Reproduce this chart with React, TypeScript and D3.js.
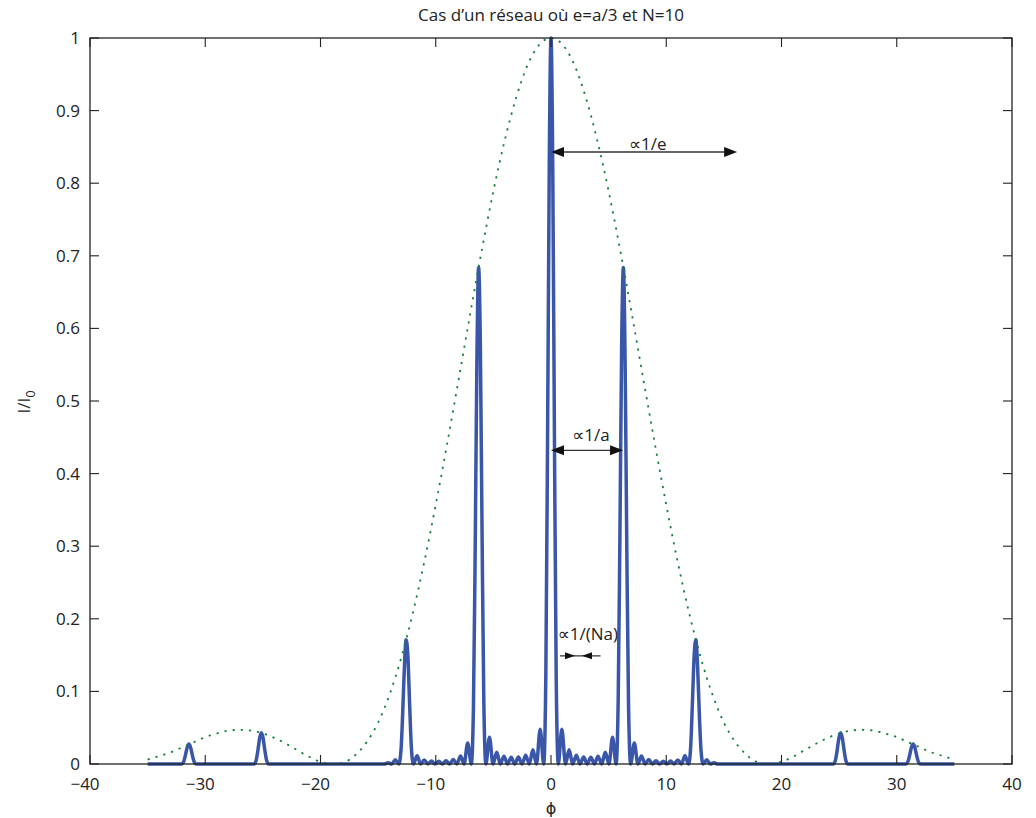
import * as d3 from "d3";

// tick values and labels
const xTicks = [-40, -30, -20, -10, 0, 10, 20, 30, 40];
const xTickLabels = ["−40", "−30", "−20", "−10", "0", "10", "20", "30", "40"];
const yTicks = [0, 0.1, 0.2, 0.3, 0.4, 0.5, 0.6, 0.7, 0.8, 0.9, 1];
const yTickLabels = ["0", "0.1", "0.2", "0.3", "0.4", "0.5", "0.6", "0.7", "0.8", "0.9", "1"];

// I/I0, [phi, intensity]
const intensity: [number, number][] = [
  [-35, 0], [-32.05, 0],
  [-31.87, 0.0033], [-31.72, 0.0122], [-31.57, 0.0227], [-31.42, 0.0274],
  [-31.27, 0.0227], [-31.12, 0.0122], [-30.97, 0.0033], [-30.79, 0],
  [-25.76, 0],
  [-25.58, 0.0052], [-25.43, 0.019], [-25.28, 0.0356], [-25.13, 0.043],
  [-24.98, 0.0356], [-24.83, 0.019], [-24.68, 0.0052], [-24.5, 0],
  [-14.45, 0], [-14.14, 0.0018], [-13.82, 0], [-13.51, 0.0058], [-13.2, 0],
  [-13.02, 0.018], [-12.87, 0.069], [-12.72, 0.134], [-12.57, 0.171],
  [-12.42, 0.149], [-12.27, 0.084], [-12.12, 0.024], [-11.94, 0],
  [-11.62, 0.0113], [-11.31, 0], [-11.0, 0.0056], [-10.68, 0],
  [-10.37, 0.0041], [-10.05, 0], [-9.74, 0.0039], [-9.42, 0],
  [-9.11, 0.0044], [-8.8, 0], [-8.48, 0.0062], [-8.17, 0],
  [-7.85, 0.011], [-7.54, 0], [-7.23, 0.029], [-6.91, 0],
  [-6.73, 0.078], [-6.58, 0.293], [-6.43, 0.555], [-6.28, 0.684],
  [-6.13, 0.576], [-5.98, 0.316], [-5.83, 0.087], [-5.65, 0],
  [-5.34, 0.037], [-5.03, 0], [-4.71, 0.0162], [-4.4, 0],
  [-4.08, 0.0108], [-3.77, 0], [-3.46, 0.0092], [-3.14, 0],
  [-2.83, 0.0095], [-2.51, 0], [-2.2, 0.012], [-1.88, 0],
  [-1.57, 0.0195], [-1.26, 0], [-0.94, 0.048], [-0.63, 0],
  [-0.45, 0.121], [-0.3, 0.445], [-0.15, 0.827], [0, 1],
  [0.15, 0.827], [0.3, 0.445], [0.45, 0.121], [0.63, 0],
  [0.94, 0.048], [1.26, 0], [1.57, 0.0195], [1.88, 0],
  [2.2, 0.012], [2.51, 0], [2.83, 0.0095], [3.14, 0],
  [3.46, 0.0092], [3.77, 0], [4.08, 0.0108], [4.4, 0],
  [4.71, 0.0162], [5.03, 0], [5.34, 0.037], [5.65, 0],
  [5.83, 0.087], [5.98, 0.316], [6.13, 0.576], [6.28, 0.684],
  [6.43, 0.555], [6.58, 0.293], [6.73, 0.078], [6.91, 0],
  [7.23, 0.029], [7.54, 0], [7.85, 0.011], [8.17, 0],
  [8.48, 0.0062], [8.8, 0], [9.11, 0.0044], [9.42, 0],
  [9.74, 0.0039], [10.05, 0], [10.37, 0.0041], [10.68, 0],
  [11.0, 0.0056], [11.31, 0], [11.62, 0.0113], [11.94, 0],
  [12.12, 0.024], [12.27, 0.084], [12.42, 0.149], [12.57, 0.171],
  [12.72, 0.134], [12.87, 0.069], [13.02, 0.018], [13.2, 0],
  [13.51, 0.0058], [13.82, 0], [14.14, 0.0018], [14.45, 0],
  [24.5, 0],
  [24.68, 0.0052], [24.83, 0.019], [24.98, 0.0356], [25.13, 0.043],
  [25.28, 0.0356], [25.43, 0.019], [25.58, 0.0052], [25.76, 0],
  [30.79, 0],
  [30.97, 0.0033], [31.12, 0.0122], [31.27, 0.0227], [31.42, 0.0274],
  [31.57, 0.0227], [31.72, 0.0122], [31.87, 0.0033], [32.05, 0],
  [35, 0],
];

// diffraction envelope (dotted green)
const envelope: [number, number][] = [
  [-35, 0.006], [-34, 0.011], [-33, 0.016], [-32, 0.023], [-31, 0.03],
  [-30, 0.037], [-29, 0.042], [-28, 0.046], [-27, 0.047], [-26, 0.046],
  [-25, 0.042], [-24, 0.036], [-23, 0.028], [-22, 0.019], [-21, 0.01],
  [-20, 0.003], [-19, 0.0001], [-18.85, 0], [-18, 0.002], [-17, 0.012],
  [-16, 0.03], [-15, 0.057], [-14, 0.096], [-13, 0.146], [-12, 0.207],
  [-11, 0.278], [-10, 0.357], [-9, 0.442], [-8, 0.531], [-7, 0.621],
  [-6, 0.708], [-5, 0.789], [-4, 0.86], [-3, 0.919], [-2, 0.964],
  [-1, 0.991], [0, 1], [1, 0.991], [2, 0.964], [3, 0.919],
  [4, 0.86], [5, 0.789], [6, 0.708], [7, 0.621], [8, 0.531],
  [9, 0.442], [10, 0.357], [11, 0.278], [12, 0.207], [13, 0.146],
  [14, 0.096], [15, 0.057], [16, 0.03], [17, 0.012], [18, 0.002],
  [18.85, 0], [19, 0.0001], [20, 0.003], [21, 0.01], [22, 0.019],
  [23, 0.028], [24, 0.036], [25, 0.042], [26, 0.046], [27, 0.047],
  [28, 0.046], [29, 0.042], [30, 0.037], [31, 0.03], [32, 0.023],
  [33, 0.016], [34, 0.011], [35, 0.006],
];

// double arrows: phi from/to, level, label position
const spanArrows = [
  { label: "∝1/e", from: 0, to: 16.15, level: 0.843, labelPhi: 8.4, labelLevel: 0.846 },
  { label: "∝1/a", from: 0, to: 6.25, level: 0.432, labelPhi: 3.47, labelLevel: 0.445 },
];
// converging arrows for the peak width
const widthArrows = { label: "∝1/(Na)", tails: [0.78, 4.3], tips: [2.08, 2.69], level: 0.149, labelPhi: 3.2, labelLevel: 0.171 };

const W = 1036;
const H = 818;
const FONT = "'Open Sans', 'DejaVu Sans', sans-serif";

const x = d3.scaleLinear().domain([-40, 40]).range([90, 1012]);
const y = d3.scaleLinear().domain([0, 1]).range([764, 38]);

const line = d3
  .line<[number, number]>()
  .x((d) => x(d[0]))
  .y((d) => y(d[1]))
  .curve(d3.curveMonotoneX);

const head = (tipX: number, tipY: number, dir: number, len: number, half: number) =>
  `M${tipX},${tipY}L${tipX - dir * len},${tipY - half}L${tipX - dir * len},${tipY + half}Z`;

export default function App() {
  const [x0, x1] = x.range();
  const [y0, y1] = y.range();
  const tick = 9;

  return (
    <svg
      width={W}
      height={H}
      style={{ position: "absolute", left: 0, top: 0, background: "#fff" }}
      fontFamily={FONT}
    >
      <rect width={W} height={H} fill="#fff" />

      <text x={551} y={21} textAnchor="middle" fontSize={17} fill="#222">
        Cas d’un réseau où e=a/3 et N=10
      </text>

      {/* curves */}
      <path
        d={line(intensity) ?? ""}
        fill="none"
        stroke="#3a56a8"
        strokeWidth={3.5}
        strokeLinejoin="round"
      />
      <path
        d={line(envelope) ?? ""}
        fill="none"
        stroke="#12823a"
        strokeWidth={1.8}
        strokeDasharray="2.2 6"
      />

      {/* axes box */}
      <rect x={x0} y={y1} width={x1 - x0} height={y0 - y1} fill="none" stroke="#222" strokeWidth={1.3} />
      {xTicks.map((t, i) => (
        <g key={"x" + t}>
          <line x1={x(t)} x2={x(t)} y1={y0} y2={y0 - tick} stroke="#222" strokeWidth={1.1} />
          <line x1={x(t)} x2={x(t)} y1={y1} y2={y1 + tick} stroke="#222" strokeWidth={1.1} />
          <text
            x={x(t) - (t < 0 ? 5 : 0)}
            y={790}
            textAnchor="middle"
            fontSize={17}
            fill="#222"
          >
            {xTickLabels[i]}
          </text>
        </g>
      ))}
      {yTicks.map((t, i) => (
        <g key={"y" + t}>
          <line x1={x0} x2={x0 + tick} y1={y(t)} y2={y(t)} stroke="#222" strokeWidth={1.1} />
          <line x1={x1} x2={x1 - tick} y1={y(t)} y2={y(t)} stroke="#222" strokeWidth={1.1} />
          <text x={80} y={y(t) + 6} textAnchor="end" fontSize={17} fill="#222">
            {yTickLabels[i]}
          </text>
        </g>
      ))}

      <text x={551} y={814} textAnchor="middle" fontSize={16} fill="#222">
        ϕ
      </text>
      <text transform="translate(30,402) rotate(-90)" textAnchor="middle" fontSize={17} fill="#222">
        I/I<tspan dy={5} fontSize={13}>0</tspan>
      </text>

      {/* annotations */}
      {spanArrows.map((a) => (
        <g key={a.label}>
          <line x1={x(a.from) + 10} x2={x(a.to) - 10} y1={y(a.level)} y2={y(a.level)} stroke="#333" strokeWidth={1.3} />
          <path d={head(x(a.from), y(a.level), -1, 13, 5)} fill="#111" />
          <path d={head(x(a.to), y(a.level), 1, 13, 5)} fill="#111" />
          <text x={x(a.labelPhi)} y={y(a.labelLevel)} textAnchor="middle" fontSize={17} fill="#222">
            {a.label}
          </text>
        </g>
      ))}
      <g>
        <line
          x1={x(widthArrows.tails[0])}
          x2={x(widthArrows.tails[1])}
          y1={y(widthArrows.level)}
          y2={y(widthArrows.level)}
          stroke="#333"
          strokeWidth={1.2}
        />
        <path d={head(x(widthArrows.tips[0]), y(widthArrows.level), 1, 10, 3.5)} fill="#111" />
        <path d={head(x(widthArrows.tips[1]), y(widthArrows.level), -1, 10, 3.5)} fill="#111" />
        <text
          x={x(widthArrows.labelPhi)}
          y={y(widthArrows.labelLevel)}
          textAnchor="middle"
          fontSize={17}
          fill="#222"
        >
          {widthArrows.label}
        </text>
      </g>
    </svg>
  );
}
